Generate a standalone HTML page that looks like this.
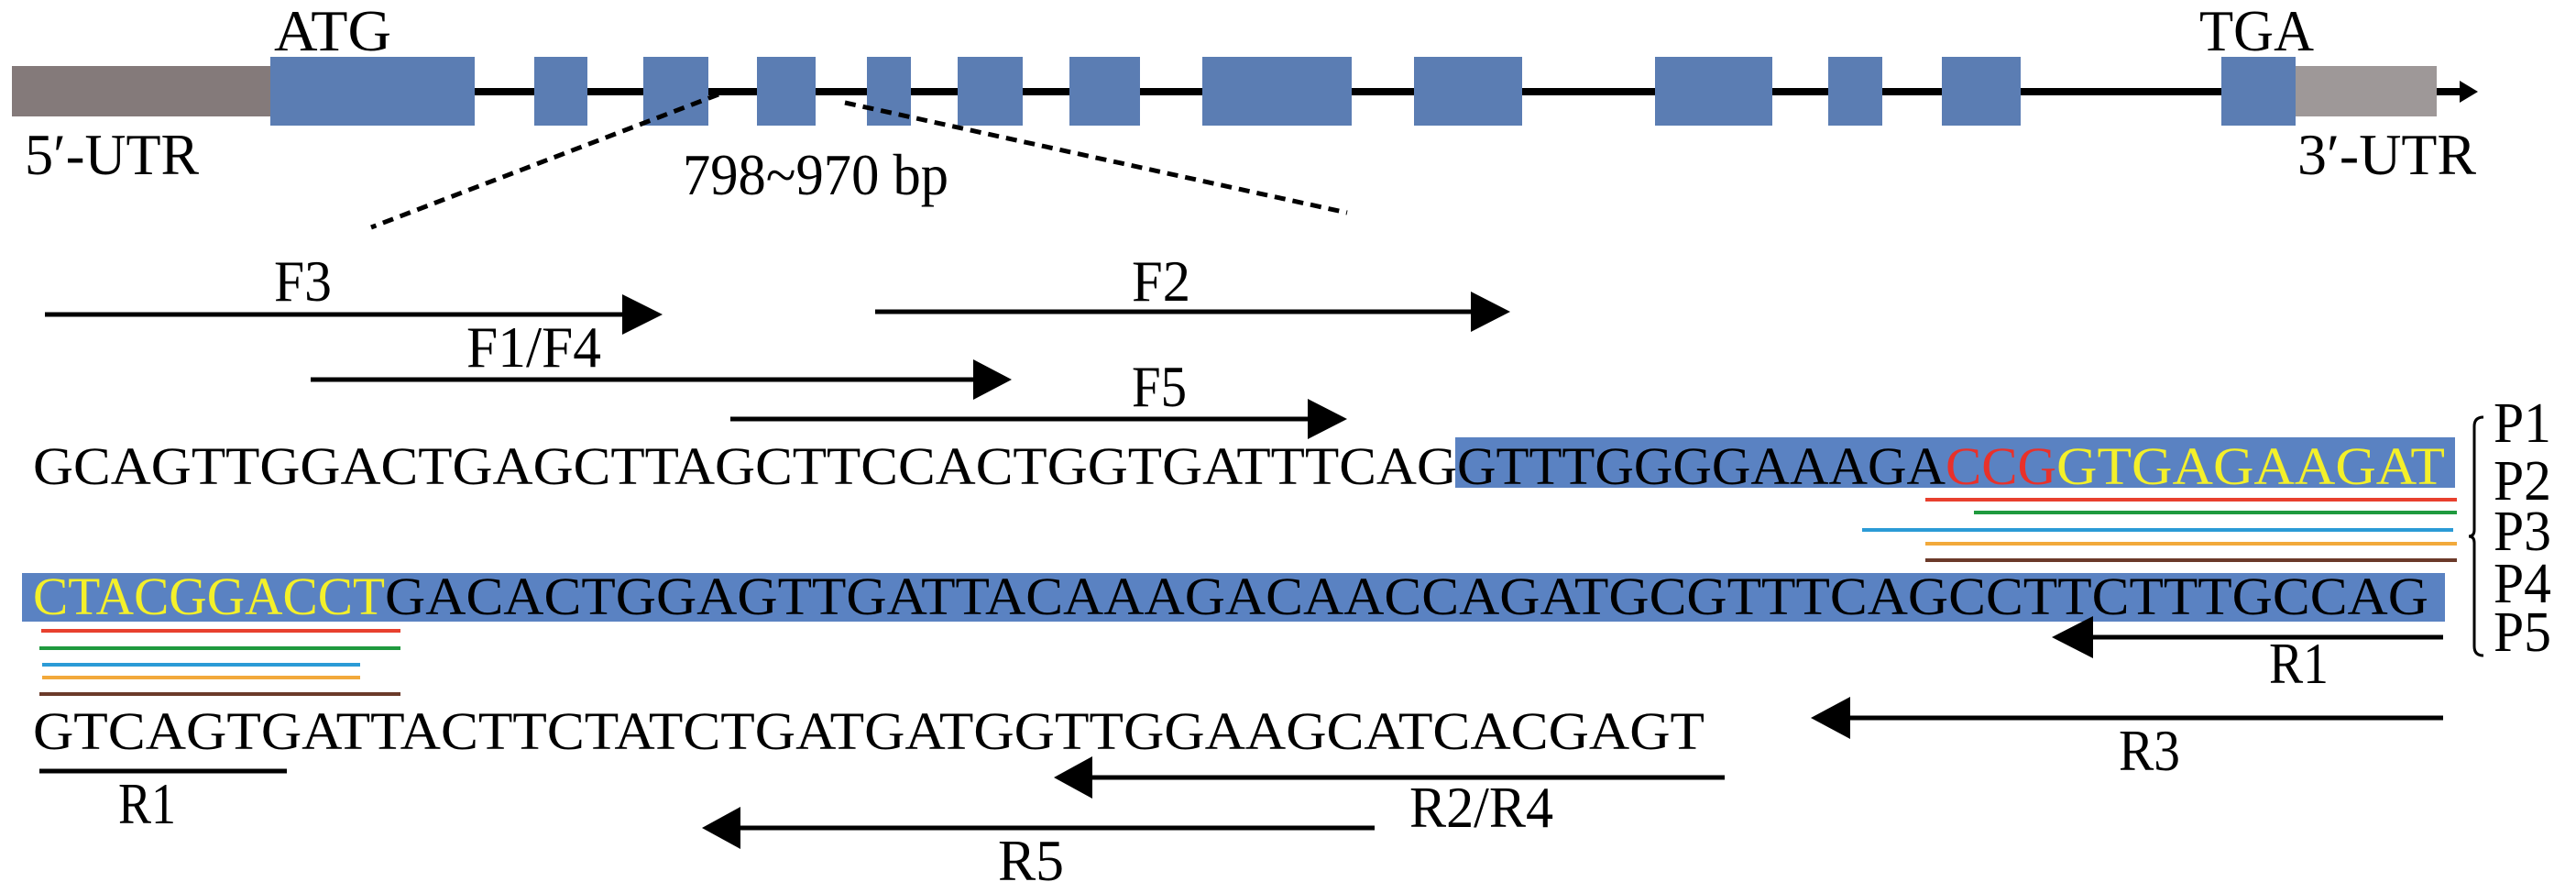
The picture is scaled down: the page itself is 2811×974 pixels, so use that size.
<!DOCTYPE html>
<html><head><meta charset="utf-8"><style>html,body{margin:0;padding:0;background:#fff}svg{display:block}</style></head>
<body>
<svg width="2811" height="974" viewBox="0 0 2811 974" xmlns="http://www.w3.org/2000/svg" font-family="'Liberation Serif', serif">
<!-- gene structure -->
<line x1="290" y1="100" x2="2690" y2="100" stroke="#000" stroke-width="8"/>
<polygon points="2684,88 2704,100 2684,112" fill="#000"/>
<rect x="13" y="72" width="283" height="55" fill="#847a7a"/>
<rect x="2505" y="72" width="154" height="55" fill="#9e9898"/>
<g fill="#5b7db3">
<rect x="295" y="62" width="223" height="75"/>
<rect x="583" y="62" width="58" height="75"/>
<rect x="702" y="62" width="71" height="75"/>
<rect x="826" y="62" width="64" height="75"/>
<rect x="946" y="62" width="48" height="75"/>
<rect x="1045" y="62" width="71" height="75"/>
<rect x="1167" y="62" width="77" height="75"/>
<rect x="1312" y="62" width="163" height="75"/>
<rect x="1543" y="62" width="118" height="75"/>
<rect x="1806" y="62" width="128" height="75"/>
<rect x="1995" y="62" width="59" height="75"/>
<rect x="2119" y="62" width="86" height="75"/>
<rect x="2424" y="62" width="81" height="75"/>
</g>
<g font-size="64" fill="#000">
<text x="299" y="55" textLength="128" lengthAdjust="spacingAndGlyphs">ATG</text>
<text x="2400" y="55" textLength="125" lengthAdjust="spacingAndGlyphs">TGA</text>
<text x="27" y="190" textLength="190" lengthAdjust="spacingAndGlyphs">5′-UTR</text>
<text x="2507" y="190" textLength="195" lengthAdjust="spacingAndGlyphs">3′-UTR</text>
<text x="745" y="212" textLength="290" lengthAdjust="spacingAndGlyphs">798~970 bp</text>
</g>
<g stroke="#000" stroke-width="5" stroke-dasharray="12,8">
<line x1="784" y1="103" x2="405" y2="248"/>
<line x1="922" y1="112" x2="1470" y2="232"/>
</g>
<!-- forward primers -->
<g stroke="#000" stroke-width="5">
<line x1="49" y1="343" x2="690" y2="343"/>
<line x1="339" y1="414" x2="1070" y2="414"/>
<line x1="955" y1="340" x2="1615" y2="340"/>
<line x1="797" y1="457" x2="1435" y2="457"/>
</g>
<g fill="#000">
<polygon points="679,321 723,343 679,365"/>
<polygon points="1062,392 1104,414 1062,436"/>
<polygon points="1605,318 1648,340 1605,362"/>
<polygon points="1427,435 1470,457 1427,479"/>
</g>
<g font-size="64" fill="#000">
<text x="299" y="328" textLength="63" lengthAdjust="spacingAndGlyphs">F3</text>
<text x="509" y="400" textLength="147" lengthAdjust="spacingAndGlyphs">F1/F4</text>
<text x="1235" y="328" textLength="64" lengthAdjust="spacingAndGlyphs">F2</text>
<text x="1235" y="443" textLength="60" lengthAdjust="spacingAndGlyphs">F5</text>
</g>
<!-- highlights -->
<rect x="1588" y="477" width="1091" height="55" fill="#5a82c2"/>
<rect x="24" y="625" width="2644" height="53" fill="#5a82c2"/>
<!-- sequences -->
<g font-size="58">
<text x="36" y="528" textLength="1554" lengthAdjust="spacingAndGlyphs" fill="#000">GCAGTTGGACTGAGCTTAGCTTCCACTGGTGATTTCAG</text>
<text x="1590" y="528" textLength="533" lengthAdjust="spacingAndGlyphs" fill="#000">GTTTGGGGAAAGA</text>
<text x="2123" y="528" textLength="121" lengthAdjust="spacingAndGlyphs" fill="#e8312a">CCG</text>
<text x="2244" y="528" textLength="424" lengthAdjust="spacingAndGlyphs" fill="#f4f02a">GTGAGAAGAT</text>
<text x="36" y="670" textLength="384" lengthAdjust="spacingAndGlyphs" fill="#f4f02a">CTACGGACCT</text>
<text x="420" y="670" textLength="2230" lengthAdjust="spacingAndGlyphs" fill="#000">GACACTGGAGTTGATTACAAAGACAACCAGATGCGTTTCAGCCTTCTTTGCCAG</text>
<text x="36" y="817" textLength="1824" lengthAdjust="spacingAndGlyphs" fill="#000">GTCAGTGATTACTTCTATCTGATGATGGTTGGAAGCATCACGAGT</text>
</g>
<!-- probe lines -->
<g stroke-width="4">
<line x1="2101" y1="545" x2="2681" y2="545" stroke="#e8402e"/>
<line x1="2154" y1="559" x2="2681" y2="559" stroke="#1f9a3e"/>
<line x1="2032" y1="578" x2="2677" y2="578" stroke="#2b9bd6"/>
<line x1="2101" y1="593" x2="2681" y2="593" stroke="#f2a93b"/>
<line x1="2101" y1="611" x2="2681" y2="611" stroke="#6b3a2a"/>
<line x1="45" y1="688" x2="437" y2="688" stroke="#e8402e"/>
<line x1="43" y1="707" x2="437" y2="707" stroke="#1f9a3e"/>
<line x1="46" y1="725" x2="393" y2="725" stroke="#2b9bd6"/>
<line x1="46" y1="739" x2="393" y2="739" stroke="#f2a93b"/>
<line x1="43" y1="757" x2="437" y2="757" stroke="#6b3a2a"/>
</g>
<!-- reverse primers -->
<g stroke="#000" stroke-width="5">
<line x1="43" y1="841" x2="313" y2="841"/>
<line x1="2274" y1="695" x2="2666" y2="695"/>
<line x1="2010" y1="783" x2="2666" y2="783"/>
<line x1="1182" y1="848" x2="1882" y2="848"/>
<line x1="800" y1="903" x2="1500" y2="903"/>
</g>
<g fill="#000">
<polygon points="2239,695 2284,672 2284,718"/>
<polygon points="1976,783 2019,760 2019,806"/>
<polygon points="1150,848 1192,825 1192,871"/>
<polygon points="766,903 808,880 808,926"/>
</g>
<g font-size="64" fill="#000">
<text x="129" y="898" textLength="63" lengthAdjust="spacingAndGlyphs">R1</text>
<text x="2476" y="745" textLength="65" lengthAdjust="spacingAndGlyphs">R1</text>
<text x="2312" y="840" textLength="67" lengthAdjust="spacingAndGlyphs">R3</text>
<text x="1538" y="902" textLength="157" lengthAdjust="spacingAndGlyphs">R2/R4</text>
<text x="1089" y="960" textLength="72" lengthAdjust="spacingAndGlyphs">R5</text>
</g>
<!-- brace and P labels -->
<path d="M2710,455 Q2700,455 2700,465 L2700,578 Q2700,585 2694,585 Q2700,585 2700,592 L2700,705 Q2700,715 2710,715" fill="none" stroke="#000" stroke-width="3"/>
<g font-size="62" fill="#000">
<text x="2721" y="482" textLength="63" lengthAdjust="spacingAndGlyphs">P1</text>
<text x="2721" y="545" textLength="63" lengthAdjust="spacingAndGlyphs">P2</text>
<text x="2721" y="600" textLength="63" lengthAdjust="spacingAndGlyphs">P3</text>
<text x="2721" y="657" textLength="63" lengthAdjust="spacingAndGlyphs">P4</text>
<text x="2721" y="710" textLength="63" lengthAdjust="spacingAndGlyphs">P5</text>
</g>
</svg>
</body></html>
